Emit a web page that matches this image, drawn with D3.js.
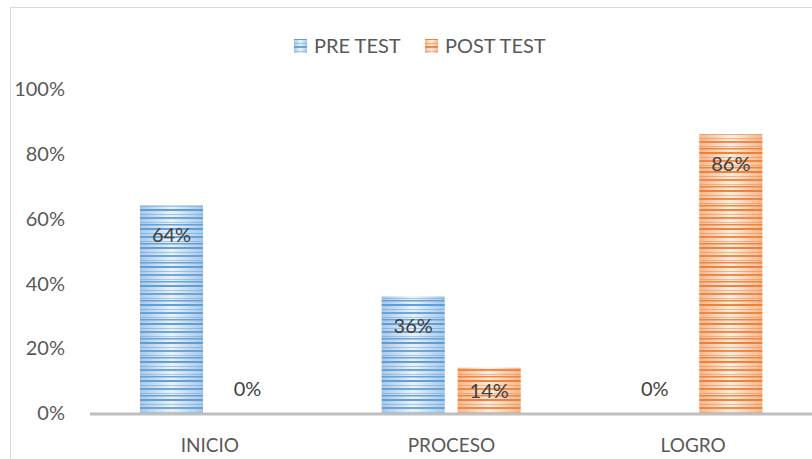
<!DOCTYPE html>
<html><head><meta charset="utf-8">
<script src="https://cdn.jsdelivr.net/npm/d3@7"></script>
<style>html,body{margin:0;padding:0;background:#fff;}svg{display:block;font-family:Lato,"Open Sans",sans-serif;}</style>
</head><body>
<script>
const categories = ["INICIO", "PROCESO", "LOGRO"];
const seriesNames = ["PRE TEST", "POST TEST"];
const preTest = [64, 36, 0];
const postTest = [0, 14, 86];
const yTicks = [0, 20, 40, 60, 80, 100];

const W = 812, H = 459;
const svg = d3.select("body").append("svg").attr("width", W).attr("height", H);
const defs = svg.append("defs");
const colors = {"PRE TEST": {dark:"#5b9bd5", edge:"#a9c8e8", mid:"#eaf2fa"}, "POST TEST": {dark:"#ed7d31", edge:"#f5b78e", mid:"#fdede2"}};
seriesNames.forEach((s,i)=>{
  const c = colors[s];
  const g = defs.append("linearGradient").attr("id","grad"+i).attr("x1","0").attr("x2","1").attr("y1","0").attr("y2","0");
  g.append("stop").attr("offset","0").attr("stop-color",c.edge);
  g.append("stop").attr("offset","0.5").attr("stop-color",c.mid);
  g.append("stop").attr("offset","1").attr("stop-color",c.edge);
  const p = defs.append("pattern").attr("id","pat"+i).attr("patternUnits","userSpaceOnUse").attr("width",10).attr("height",19);
  [[0,2,0.95],[5,1,0.5],[8,2,0.85],[13,1,0.45],[15,1.5,0.9]].forEach(([y,h,o])=>{
    p.append("rect").attr("x",0).attr("y",y).attr("width",10).attr("height",h).attr("fill",c.dark).attr("opacity",o);
  });
});

// border
svg.append("rect").attr("x",10.5).attr("y",7.5).attr("width",W+20).attr("height",H+20).attr("fill","none").attr("stroke","#d9d9d9").attr("stroke-width",1);

const x0 = d3.scaleBand().domain(categories).range([89, 814]).padding(0);
const x1 = d3.scaleBand().domain(seriesNames).range([51, 51+139]).paddingInner(13/76).paddingOuter(0);
const y = d3.scaleLinear().domain([0,100]).range([413, 89]);

const txt = "#595959";
const fs = 20;
// y axis labels
svg.append("g").selectAll("text").data(yTicks).join("text")
  .attr("x",65).attr("y",d=>y(d)).attr("dy","0.36em").attr("text-anchor","end")
  .attr("fill",txt).attr("font-size",fs).text(d=>d+"%");

const data = categories.map((c,i)=>({cat:c, vals:[preTest[i], postTest[i]]}));
const groups = svg.append("g").selectAll("g").data(data).join("g").attr("transform",d=>`translate(${x0(d.cat)},0)`);
seriesNames.forEach((s,si)=>{
  groups.append("rect").attr("x",x1(s)).attr("width",x1.bandwidth())
    .attr("y",d=>y(d.vals[si])).attr("height",d=>y(0)-y(d.vals[si])).attr("fill",`url(#grad${si})`);
  groups.append("rect").attr("x",x1(s)).attr("width",x1.bandwidth())
    .attr("y",d=>y(d.vals[si])).attr("height",d=>y(0)-y(d.vals[si])).attr("fill",`url(#pat${si})`);
  groups.append("text").attr("x",x1(s)+x1.bandwidth()/2)
    .attr("y",d=>{const v=d.vals[si]; if(v===0) return y(0)-24; return Math.min(y(v)+29,(y(v)+y(0))/2);})
    .attr("dy","0.36em").attr("text-anchor","middle").attr("fill","#404040").attr("font-size",fs)
    .text(d=>d.vals[si]+"%");
});

// baseline
svg.append("line").attr("x1",90).attr("x2",W).attr("y1",y(0)+1).attr("y2",y(0)+1).attr("stroke","#bfbfbf").attr("stroke-width",3);

// x labels
svg.append("g").selectAll("text").data(categories).join("text")
  .attr("x",d=>x0(d)+x0.bandwidth()/2).attr("y",445).attr("dy","0.36em").attr("text-anchor","middle")
  .attr("fill",txt).attr("font-size",19).text(d=>d);

// legend
const leg = svg.append("g");
const legX = [294, 425];
seriesNames.forEach((s,i)=>{
  leg.append("rect").attr("x",legX[i]).attr("y",39).attr("width",13).attr("height",14).attr("fill",`url(#grad${i})`);
  leg.append("rect").attr("x",legX[i]).attr("y",39).attr("width",13).attr("height",14).attr("fill",`url(#pat${i})`);
  leg.append("text").attr("x",legX[i]+20).attr("y",46).attr("dy","0.36em").attr("fill",txt).attr("font-size",fs).text(s);
});
</script>
</body></html>
